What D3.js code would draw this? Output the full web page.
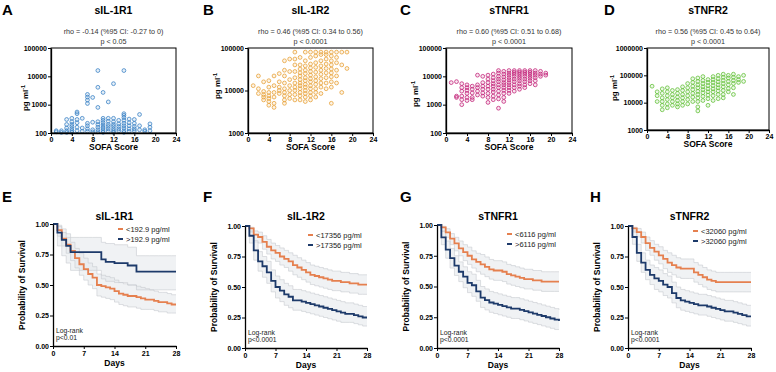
<!DOCTYPE html>
<html>
<head>
<meta charset="utf-8">
<script src="https://cdn.jsdelivr.net/npm/d3@7"></script>
<style>
  body { margin: 0; background: #fff; }
  svg { font-family: "Liberation Sans", Arial, sans-serif; }
</style>
</head>
<body>
<svg width="776" height="372"></svg>
<script>
// ---- scatter data: values (pg/ml) for each SOFA score 1..19 ----
var sofaScores = [1, 2, 3, 4, 5, 6, 7, 8, 9, 10, 11, 12, 13, 14, 15, 16, 17, 18, 19];

var sil1r1Values = [
  [120, 110], [120, 105], [300, 200, 150, 120, 105], [330, 250, 200, 170, 140, 120, 105],
  [550, 480, 300, 230, 160, 120], [330, 150, 115], [2300, 1850, 1450, 1100, 220, 180, 140, 115],
  [1800, 240, 130, 110], [16000, 4100, 800, 250, 200, 160, 130, 110],
  [2700, 330, 280, 230, 190, 160, 140, 120, 105], [1250, 330, 260, 200, 170, 140, 115],
  [5500, 330, 250, 200, 170, 140, 120, 105], [280, 210, 170, 140, 120],
  [16000, 480, 420, 350, 280, 220, 180, 150, 120, 105], [310, 230, 180, 140, 115],
  [300, 220, 170, 140, 120], [450, 180, 130], [130, 115], [210, 160, 120]
];

var sil1r2Values = [
  [13000], [22000, 11000, 8500], [16000, 9500, 8000, 7000, 6000],
  [17000, 12000, 9000, 7500, 6500, 5500, 4500], [22000, 13000, 9000, 7000, 5000, 4000],
  [25000, 16000, 12000, 10000, 8500], [50000, 30000, 22000, 15000, 11000, 9000, 7500, 6000, 5000],
  [55000, 28000, 18000, 13000, 10000, 8000, 6500],
  [80000, 55000, 40000, 28000, 20000, 15000, 12000, 10000, 8000, 6000],
  [60000, 40000, 32000, 26000, 22000, 18000, 15000, 13000, 11000, 9000, 7500, 6000],
  [80000, 50000, 38000, 30000, 25000, 20000, 17000, 14000, 12000, 10000, 8500, 7000, 5500],
  [80000, 60000, 42000, 34000, 28000, 23000, 19000, 16000, 13000, 11000, 9000, 7500, 6000],
  [80000, 65000, 45000, 35000, 27000, 21000, 17000, 14000, 11000, 9000, 7000],
  [80000, 70000, 50000, 38000, 30000, 24000, 19000, 15000, 12000, 8500],
  [80000, 70000, 55000, 42000, 33000, 26000, 20000, 15000, 11000],
  [80000, 65000, 50000, 40000, 32000, 26000, 21000, 16000, 12000, 5000],
  [80000, 60000, 45000, 30000, 22000, 15000], [80000, 40000, 9000], [80000, 33000]
];

var stnfr1Values = [
  [6000], [6500, 2000, 1800], [5500, 4000, 3000, 2000, 1500, 1000],
  [5000, 4000, 3200, 2500, 1800, 1400], [4500, 3500, 2600, 1800, 1500],
  [11000, 5000, 4000, 3000, 2200], [10000, 6000, 4500, 3500, 2600, 2000],
  [11000, 8000, 6000, 4500, 3500, 2500, 1800, 1200],
  [12000, 9000, 7000, 5500, 4500, 3500, 2800, 2000, 1500],
  [16000, 13000, 10000, 8000, 6500, 5000, 4000, 3000, 2200, 1600, 750],
  [15000, 12000, 9500, 7500, 6000, 5000, 4000, 3200, 2500, 1800, 1300],
  [16000, 13000, 11000, 9000, 7500, 6000, 5000, 4000, 3200, 2500],
  [16000, 14000, 12000, 10000, 8000, 6500, 5000, 4000, 3000],
  [16000, 14000, 12000, 10000, 8500, 7000, 5500, 4500, 3500],
  [16000, 14000, 12000, 10000, 8000, 6500, 5000, 4000],
  [16000, 14000, 12000, 10000, 8500, 7000, 5500],
  [16000, 13000, 11000, 9000, 7000, 5000], [15000, 12000, 10000], [13000, 11000]
];

var stnfr2Values = [
  [40000], [25000, 18000, 11000], [32000, 22000, 15000, 11000, 8000, 5500],
  [35000, 25000, 18000, 13000, 9000, 6500], [28000, 20000, 15000, 11000, 8000],
  [30000, 22000, 16000, 12000, 9000, 7000], [38000, 28000, 20000, 15000, 11000, 8000],
  [50000, 35000, 25000, 18000, 13000, 9000],
  [75000, 55000, 40000, 30000, 22000, 16000, 11000],
  [80000, 60000, 45000, 35000, 26000, 20000, 15000, 11000, 7000, 5000],
  [90000, 65000, 50000, 38000, 30000, 23000, 17000, 12000],
  [70000, 55000, 42000, 32000, 25000, 19000, 14000, 8000],
  [90000, 70000, 55000, 42000, 32000, 25000, 18000, 12000],
  [100000, 75000, 58000, 45000, 35000, 27000, 20000, 14000],
  [110000, 85000, 65000, 50000, 38000, 28000, 20000, 15000],
  [100000, 80000, 60000, 45000, 33000, 25000],
  [110000, 85000, 65000, 50000, 35000, 20000], [90000, 70000, 55000], [100000, 60000]
];

var sofaTicks = [0, 4, 8, 12, 16, 20, 24];

// ---- survival data: value at each day 0..28 ----
var kmDays = [0, 1, 2, 3, 4, 5, 6, 7, 8, 9, 10, 11, 12, 13, 14, 15, 16, 17, 18, 19, 20, 21, 22, 23, 24, 25, 26, 27, 28];
var dayTicks = [0, 7, 14, 21, 28];
var survTicks = [0, 0.25, 0.5, 0.75, 1];

var eLowSurv = [1.00,0.95,0.88,0.83,0.78,0.72,0.67,0.63,0.59,0.56,0.50,0.49,0.48,0.47,0.45,0.43,0.42,0.41,0.41,0.40,0.39,0.38,0.38,0.37,0.36,0.36,0.35,0.34,0.34];
var eLowLo   = [1.00,0.90,0.82,0.76,0.70,0.64,0.58,0.54,0.50,0.47,0.41,0.40,0.39,0.38,0.36,0.34,0.33,0.32,0.32,0.31,0.30,0.30,0.30,0.29,0.28,0.28,0.27,0.27,0.27];
var eLowHi   = [1.00,0.98,0.93,0.89,0.85,0.80,0.76,0.72,0.68,0.65,0.59,0.58,0.57,0.56,0.54,0.52,0.51,0.50,0.50,0.49,0.48,0.47,0.46,0.45,0.44,0.44,0.43,0.42,0.42];
var eHighSurv = [1.00,0.93,0.87,0.82,0.77,0.77,0.77,0.77,0.77,0.77,0.77,0.71,0.69,0.69,0.68,0.68,0.68,0.66,0.66,0.61,0.61,0.61,0.61,0.61,0.61,0.61,0.61,0.61,0.61];
var eHighLo   = [1.00,0.82,0.74,0.68,0.62,0.62,0.62,0.62,0.62,0.62,0.62,0.55,0.53,0.53,0.52,0.52,0.52,0.50,0.50,0.46,0.46,0.46,0.46,0.46,0.46,0.46,0.46,0.46,0.46];
var eHighHi   = [1.00,0.99,0.96,0.92,0.89,0.89,0.89,0.89,0.89,0.89,0.89,0.85,0.84,0.84,0.83,0.83,0.83,0.81,0.81,0.74,0.74,0.74,0.74,0.74,0.74,0.74,0.74,0.74,0.74];

var fLowSurv = [1.00,0.98,0.93,0.91,0.87,0.83,0.80,0.78,0.75,0.73,0.71,0.68,0.66,0.64,0.62,0.60,0.59,0.58,0.57,0.56,0.55,0.55,0.54,0.54,0.53,0.53,0.52,0.52,0.52];
var fLowLo   = [1.00,0.95,0.88,0.86,0.81,0.77,0.73,0.71,0.68,0.66,0.63,0.60,0.58,0.56,0.54,0.52,0.51,0.50,0.49,0.48,0.47,0.47,0.46,0.46,0.45,0.45,0.44,0.44,0.44];
var fLowHi   = [1.00,0.99,0.96,0.95,0.92,0.89,0.86,0.84,0.82,0.80,0.78,0.76,0.74,0.72,0.70,0.68,0.67,0.66,0.65,0.64,0.63,0.63,0.62,0.62,0.61,0.61,0.60,0.60,0.60];
var fHighSurv = [1.00,0.92,0.80,0.71,0.67,0.62,0.55,0.50,0.47,0.44,0.42,0.39,0.39,0.38,0.37,0.36,0.35,0.34,0.33,0.32,0.31,0.30,0.29,0.28,0.28,0.27,0.26,0.25,0.25];
var fHighLo   = [1.00,0.86,0.72,0.63,0.58,0.53,0.46,0.41,0.38,0.35,0.33,0.31,0.31,0.30,0.29,0.28,0.27,0.26,0.25,0.24,0.23,0.22,0.21,0.21,0.21,0.20,0.19,0.18,0.18];
var fHighHi   = [1.00,0.96,0.87,0.79,0.75,0.71,0.64,0.59,0.56,0.53,0.51,0.48,0.48,0.47,0.46,0.45,0.44,0.43,0.42,0.41,0.40,0.39,0.38,0.37,0.37,0.36,0.35,0.34,0.34];

var gLowSurv = [1.00,0.98,0.94,0.89,0.85,0.81,0.78,0.75,0.72,0.70,0.68,0.66,0.64,0.63,0.63,0.62,0.60,0.59,0.58,0.57,0.56,0.56,0.55,0.55,0.54,0.54,0.54,0.54,0.54];
var gLowLo   = [1.00,0.95,0.90,0.84,0.79,0.75,0.71,0.68,0.65,0.62,0.60,0.58,0.56,0.55,0.55,0.54,0.52,0.51,0.50,0.49,0.48,0.48,0.47,0.47,0.46,0.46,0.46,0.46,0.46];
var gLowHi   = [1.00,0.99,0.97,0.93,0.90,0.87,0.84,0.82,0.79,0.77,0.76,0.74,0.72,0.71,0.71,0.70,0.68,0.67,0.66,0.65,0.64,0.64,0.63,0.63,0.62,0.62,0.62,0.62,0.62];
var gHighSurv = [1.00,0.90,0.80,0.73,0.67,0.62,0.58,0.53,0.51,0.46,0.41,0.39,0.37,0.36,0.35,0.34,0.33,0.32,0.32,0.31,0.30,0.29,0.28,0.27,0.26,0.25,0.24,0.23,0.22];
var gHighLo   = [1.00,0.84,0.73,0.65,0.59,0.54,0.49,0.45,0.42,0.38,0.33,0.31,0.29,0.28,0.27,0.26,0.25,0.24,0.24,0.23,0.22,0.21,0.20,0.19,0.18,0.17,0.16,0.15,0.15];
var gHighHi   = [1.00,0.95,0.87,0.81,0.75,0.70,0.66,0.62,0.60,0.55,0.50,0.48,0.46,0.45,0.44,0.43,0.42,0.41,0.41,0.40,0.39,0.38,0.37,0.36,0.35,0.34,0.33,0.32,0.31];

var hLowSurv = [1.00,0.98,0.95,0.91,0.86,0.82,0.79,0.76,0.73,0.70,0.68,0.66,0.65,0.65,0.65,0.62,0.60,0.58,0.56,0.55,0.54,0.54,0.54,0.54,0.54,0.54,0.54,0.54,0.54];
var hLowLo   = [1.00,0.95,0.91,0.86,0.80,0.76,0.72,0.69,0.65,0.62,0.60,0.58,0.57,0.57,0.57,0.54,0.52,0.50,0.48,0.47,0.46,0.46,0.46,0.46,0.46,0.46,0.46,0.46,0.46];
var hLowHi   = [1.00,0.99,0.98,0.95,0.91,0.88,0.85,0.83,0.80,0.78,0.76,0.74,0.73,0.73,0.73,0.70,0.68,0.66,0.64,0.63,0.62,0.62,0.62,0.62,0.62,0.62,0.62,0.62,0.62];
var hHighSurv = [1.00,0.91,0.78,0.70,0.64,0.60,0.57,0.55,0.52,0.50,0.45,0.41,0.39,0.38,0.37,0.36,0.35,0.35,0.34,0.33,0.32,0.31,0.30,0.30,0.29,0.28,0.27,0.26,0.26];
var hHighLo   = [1.00,0.85,0.71,0.62,0.56,0.52,0.48,0.46,0.43,0.41,0.37,0.33,0.31,0.30,0.29,0.28,0.27,0.27,0.26,0.25,0.24,0.23,0.22,0.22,0.21,0.20,0.19,0.18,0.18];
var hHighHi   = [1.00,0.96,0.85,0.78,0.72,0.68,0.66,0.64,0.61,0.59,0.54,0.50,0.48,0.47,0.46,0.45,0.44,0.44,0.43,0.42,0.41,0.40,0.39,0.39,0.38,0.37,0.36,0.35,0.35];

var svg = d3.select("svg");
var lowColor = "#e5804f", highColor = "#1d3a6a";

function styleAxis(g) {
    g.attr("font-size", 7).attr("font-family", null).attr("font-weight", "bold");
    g.select(".domain").attr("stroke-width", 1.3);
    g.selectAll(".tick line").attr("stroke-width", 1);
}

function letter(txt, x, y) {
    svg.append("text").attr("x", x).attr("y", y).text(txt)
        .attr("font-size", 15).attr("font-weight", "bold");
}

// ---------------- scatter panels ----------------
function scatterPanel(c) {
    var x = d3.scaleLinear().domain([0, 24]).range([c.x0, c.x1]);
    var y = d3.scaleLog().domain(c.domain).range([c.y1, c.y0]);
    var cx = (c.x0 + c.x1) / 2;

    letter(c.letter, c.lx, 15);
    svg.append("text").attr("x", cx).attr("y", 14).attr("text-anchor", "middle")
        .attr("font-size", 10.5).attr("font-weight", "bold").text(c.title);
    svg.append("text").attr("x", cx).attr("y", 34).attr("text-anchor", "middle")
        .attr("font-size", 7.2).attr("fill", "#333").text(c.rho);
    svg.append("text").attr("x", cx).attr("y", 44).attr("text-anchor", "middle")
        .attr("font-size", 7.2).attr("fill", "#333").text(c.p);

    var pts = [];
    c.values.forEach(function(vals, i) {
        vals.forEach(function(v) { pts.push([sofaScores[i], v]); });
    });

    svg.append("g").selectAll("circle").data(pts).enter().append("circle")
        .attr("cx", d => x(d[0]))
        .attr("cy", d => y(d[1]))
        .attr("r", 1.9)
        .attr("fill", c.color).attr("fill-opacity", 0.12)
        .attr("stroke", c.color).attr("stroke-width", 0.8);

    // frame
    svg.append("rect").attr("x", c.x0).attr("y", c.y0)
        .attr("width", c.x1 - c.x0).attr("height", c.y1 - c.y0)
        .attr("fill", "none").attr("stroke", "#000").attr("stroke-width", 1);

    svg.append("g").attr("transform", "translate(0," + c.y1 + ")")
        .call(d3.axisBottom(x).tickValues(sofaTicks).tickSize(3).tickPadding(1).tickSizeOuter(0))
        .call(styleAxis);
    svg.append("g").attr("transform", "translate(" + c.x0 + ",0)")
        .call(d3.axisLeft(y).tickValues(c.ticks).tickFormat(d3.format("d")).tickSize(3).tickPadding(1).tickSizeOuter(0))
        .call(styleAxis);

    svg.append("text").attr("x", cx).attr("y", c.y1 + 17).attr("text-anchor", "middle")
        .attr("font-size", 8.5).attr("font-weight", "bold").text("SOFA Score");
    var yl = svg.append("text")
        .attr("transform", "translate(" + (c.x0 - c.yo) + "," + c.yc + ") rotate(-90)")
        .attr("text-anchor", "middle").attr("font-size", 8).attr("font-weight", "bold");
    yl.append("tspan").text("pg ml");
    yl.append("tspan").attr("font-size", 5.5).attr("dy", -3).text("-1");
}

scatterPanel({ letter: "A", lx: 2, title: "sIL-1R1", rho: "rho = -0.14 (%95 CI: -0.27 to 0)", p: "p < 0.05",
    values: sil1r1Values, color: "#3d84c6", domain: [100, 100000], ticks: [100, 1000, 10000, 100000],
    x0: 51, x1: 176, y0: 48, y1: 133, yo: 23, yc: 98 });
scatterPanel({ letter: "B", lx: 203, title: "sIL-1R2", rho: "rho = 0.46 (%95 CI: 0.34 to 0.56)", p: "p < 0.0001",
    values: sil1r2Values, color: "#e9a23a", domain: [1000, 100000], ticks: [1000, 10000, 100000],
    x0: 248, x1: 373, y0: 48, y1: 133, yo: 28, yc: 86 });
scatterPanel({ letter: "C", lx: 400, title: "sTNFR1", rho: "rho = 0.60 (%95 CI: 0.51 to 0.68)", p: "p < 0.0001",
    values: stnfr1Values, color: "#c4287c", domain: [100, 100000], ticks: [100, 1000, 10000, 100000],
    x0: 446, x1: 572, y0: 48, y1: 133, yo: 28, yc: 94 });
scatterPanel({ letter: "D", lx: 604, title: "sTNFR2", rho: "rho = 0.56 (%95 CI: 0.45 to 0.64)", p: "p < 0.0001",
    values: stnfr2Values, color: "#66c23c", domain: [1000, 1000000], ticks: [1000, 10000, 100000, 1000000],
    x0: 647, x1: 769, y0: 48, y1: 130, yo: 30, yc: 88 });

// ---------------- survival panels ----------------
function kmPanel(c) {
    var x = d3.scaleLinear().domain([0, 28]).range([c.x0, c.x1]);
    var y = d3.scaleLinear().domain([0, 1]).range([c.y1, c.y0]);
    var cx = (c.x0 + c.x1) / 2;

    letter(c.letter, c.lx, 202);
    svg.append("text").attr("x", cx).attr("y", 219.5).attr("text-anchor", "middle")
        .attr("font-size", 10.5).attr("font-weight", "bold").text(c.title);

    var groups = [
        { s: c.lowSurv, lo: c.lowLo, hi: c.lowHi, color: lowColor },
        { s: c.highSurv, lo: c.highLo, hi: c.highHi, color: highColor }
    ];

    var area = d3.area().curve(d3.curveStepAfter)
        .x((d, i) => x(kmDays[i]));
    var line = d3.line().curve(d3.curveStepAfter)
        .x((d, i) => x(kmDays[i])).y(d => y(d));

    groups.forEach(function(g) {
        svg.append("path").datum(g.s)
            .attr("d", area.y0((d, i) => y(g.lo[i])).y1((d, i) => y(g.hi[i])))
            .attr("fill", "#e1e5ea").attr("fill-opacity", 0.5);
    });
    groups.forEach(function(g) {
        [g.lo, g.hi].forEach(function(b) {
            svg.append("path").datum(b).attr("d", line)
                .attr("fill", "none").attr("stroke", "#c8cbd0").attr("stroke-width", 0.6);
        });
    });
    groups.forEach(function(g) {
        svg.append("path").datum(g.s).attr("d", line)
            .attr("fill", "none").attr("stroke", g.color).attr("stroke-width", 1.8);
    });

    svg.append("g").attr("transform", "translate(0," + c.y1 + ")")
        .call(d3.axisBottom(x).tickValues(dayTicks).tickSize(3).tickPadding(2).tickSizeOuter(0))
        .call(styleAxis);
    svg.append("g").attr("transform", "translate(" + c.x0 + ",0)")
        .call(d3.axisLeft(y).tickValues(survTicks).tickFormat(d3.format(".2f")).tickSize(3).tickPadding(1).tickSizeOuter(0))
        .call(styleAxis);

    svg.append("text").attr("x", cx).attr("y", c.y1 + 20).attr("text-anchor", "middle")
        .attr("font-size", 8.5).attr("font-weight", "bold").text("Days");
    svg.append("text")
        .attr("transform", "translate(" + (c.x0 - 28) + "," + ((c.y0 + c.y1) / 2) + ") rotate(-90)")
        .attr("text-anchor", "middle").attr("font-size", 8.5).attr("font-weight", "bold")
        .text("Probability of Survival");

    // legend
    var leg = [[c.lowLabel, lowColor], [c.highLabel, highColor]];
    leg.forEach(function(d, i) {
        var ly = c.y0 + c.ly + i * 10;
        svg.append("line").attr("x1", c.x0 + c.lx2).attr("x2", c.x0 + c.lx2 + 5)
            .attr("y1", ly).attr("y2", ly).attr("stroke", d[1]).attr("stroke-width", 2);
        svg.append("text").attr("x", c.x0 + c.lx2 + 8).attr("y", ly + 2.6)
            .attr("font-size", 7.5).attr("fill", "#222").text(d[0]);
    });

    svg.append("text").attr("x", c.x0 + 3).attr("y", c.y1 - 13)
        .attr("font-size", 6.8).attr("fill", "#222").text("Log-rank");
    svg.append("text").attr("x", c.x0 + 3).attr("y", c.y1 - 6.5)
        .attr("font-size", 6.8).attr("fill", "#222").text(c.p);
}

kmPanel({ letter: "E", lx: 2, title: "sIL-1R1", x0: 53, x1: 176, y0: 224, y1: 346, ly: 5, lx2: 65,
    lowLabel: "<192.9 pg/ml", highLabel: ">192.9 pg/ml", p: "p<0.01",
    lowSurv: eLowSurv, lowLo: eLowLo, lowHi: eLowHi, highSurv: eHighSurv, highLo: eHighLo, highHi: eHighHi });
kmPanel({ letter: "F", lx: 203, title: "sIL-1R2", x0: 245, x1: 367, y0: 226, y1: 348, ly: 9, lx2: 63,
    lowLabel: "<17356 pg/ml", highLabel: ">17356 pg/ml", p: "p<0.0001",
    lowSurv: fLowSurv, lowLo: fLowLo, lowHi: fLowHi, highSurv: fHighSurv, highLo: fHighLo, highHi: fHighHi });
kmPanel({ letter: "G", lx: 400, title: "sTNFR1", x0: 437, x1: 559, y0: 225, y1: 348, ly: 9, lx2: 70,
    lowLabel: "<6116 pg/ml", highLabel: ">6116 pg/ml", p: "p<0.0001",
    lowSurv: gLowSurv, lowLo: gLowLo, lowHi: gLowHi, highSurv: gHighSurv, highLo: gHighLo, highHi: gHighHi });
kmPanel({ letter: "H", lx: 590, title: "sTNFR2", x0: 628, x1: 751, y0: 226, y1: 348, ly: 5, lx2: 65,
    lowLabel: "<32060 pg/ml", highLabel: ">32060 pg/ml", p: "p<0.0001",
    lowSurv: hLowSurv, lowLo: hLowLo, lowHi: hLowHi, highSurv: hHighSurv, highLo: hHighLo, highHi: hHighHi });
</script>
</body>
</html>
